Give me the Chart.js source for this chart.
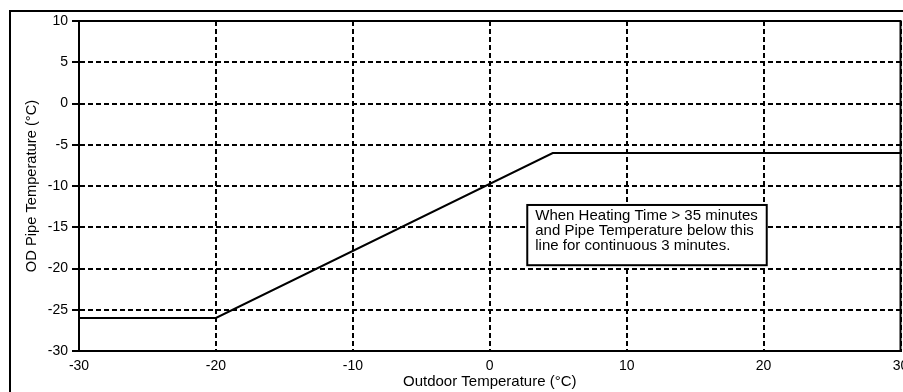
<!DOCTYPE html>
<html>
<head>
<meta charset="utf-8">
<script src="https://cdn.jsdelivr.net/npm/chart.js@4.4.0/dist/chart.umd.min.js"></script>
<style>
html, body { margin: 0; padding: 0; background: #fff; }
</style>
</head>
<body>
<canvas id="defrostChart" width="903" height="392"></canvas>
<script>
/* ==========================================
   DATA
========================================== */

const outdoorTemps = [-30, -20, 4.6, 30];

const pipeTemps = [-26, -26, -6, -6];

const xTicks = [-30, -20, -10, 0, 10, 20, 30];

const yTicks = [10, 5, 0, -5, -10, -15, -20, -25, -30];

const noteLines = [
    "When Heating Time > 35 minutes",
    "and Pipe Temperature below this",
    "line for continuous 3 minutes."
];

/* ==========================================
   FRAME + NOTE BOX
========================================== */

const framePlugin = {

    id: "frame",

    beforeDraw(chart) {
        const ctx = chart.ctx;
        ctx.save();
        ctx.fillStyle = "#fff";
        ctx.fillRect(0, 0, chart.width, chart.height);
        // outer frame, runs off the right and bottom edge
        ctx.strokeStyle = "#000";
        ctx.lineWidth = 2;
        ctx.beginPath();
        ctx.moveTo(10, chart.height + 5);
        ctx.lineTo(10, 11);
        ctx.lineTo(chart.width + 5, 11);
        ctx.stroke();
        ctx.restore();
    },

    afterDatasetsDraw(chart, args, opts) {
        const ctx = chart.ctx;
        const a = chart.chartArea;
        const x = chart.scales.x;
        const y = chart.scales.y;

        ctx.save();
        ctx.strokeStyle = "#000";
        ctx.lineWidth = 2;

        // top and right edge of the plot box
        ctx.beginPath();
        ctx.moveTo(a.left, a.top);
        ctx.lineTo(a.right, a.top);
        ctx.lineTo(a.right, a.bottom);
        ctx.stroke();

        // note box
        const left = x.getPixelForValue(opts.xMin);
        const right = x.getPixelForValue(opts.xMax);
        const top = y.getPixelForValue(opts.yMax);
        const bottom = y.getPixelForValue(opts.yMin);

        ctx.fillStyle = "#fff";
        ctx.fillRect(left, top, right - left, bottom - top);
        ctx.strokeRect(left, top, right - left, bottom - top);

        ctx.fillStyle = "#000";
        ctx.font = "15px 'Liberation Sans', Arial, sans-serif";
        ctx.textBaseline = "middle";
        ctx.textAlign = "left";
        noteLines.forEach((line, i) => {
            ctx.fillText(line, left + 8, top + 11 + i * 15);
        });

        ctx.restore();
    }

};

/* ==========================================
   CHART
========================================== */

Chart.defaults.font.family = "'Liberation Sans', Arial, sans-serif";
Chart.defaults.color = "#000";

new Chart(document.getElementById("defrostChart"), {

    type: "line",

    data: {
        datasets: [{
            data: outdoorTemps.map((t, i) => ({ x: t, y: pipeTemps[i] })),
            borderColor: "#000",
            borderWidth: 2,
            pointRadius: 0,
            tension: 0,
            fill: false
        }]
    },

    options: {

        responsive: false,
        animation: false,

        layout: {
            padding: { top: 21, right: 2.5, left: 0, bottom: 0 }
        },

        plugins: {
            legend: { display: false },
            tooltip: { enabled: false },
            frame: { xMin: 2.74, xMax: 20.23, yMin: -19.6, yMax: -12.3 }
        },

        scales: {

            x: {
                type: "linear",
                min: -30,
                max: 30,
                afterBuildTicks: (s) => { s.ticks = xTicks.map(v => ({ value: v })); },
                afterFit: (s) => {
                    s.height = 41;
                    s.paddingLeft = 0;
                    s.paddingRight = 0;
                },
                ticks: {
                    font: { size: 14 },
                    padding: 7,
                    maxRotation: 0,
                    autoSkip: false
                },
                grid: {
                    color: "#000",
                    lineWidth: 2,
                    drawTicks: false
                },
                border: { color: "#000", width: 2, dash: [5, 3] },
                title: {
                    display: true,
                    text: "Outdoor Temperature (°C)",
                    font: { size: 15 },
                    padding: { top: 0, bottom: 1 }
                }
            },

            y: {
                type: "linear",
                min: -30,
                max: 10,
                afterBuildTicks: (s) => { s.ticks = yTicks.map(v => ({ value: v })); },
                afterFit: (s) => {
                    s.width = 79;
                    s.paddingTop = 0;
                    s.paddingBottom = 0;
                },
                ticks: {
                    font: { size: 14 },
                    padding: 4,
                    autoSkip: false
                },
                grid: {
                    color: "#000",
                    lineWidth: 2,
                    tickLength: 7,
                    tickWidth: 2,
                    tickColor: "#000",
                    tickBorderDash: []
                },
                border: { color: "#000", width: 2, dash: [5, 3] },
                title: {
                    display: true,
                    text: "OD Pipe Temperature (°C)",
                    font: { size: 14.7 },
                    padding: { top: 23, bottom: 0 }
                }
            }

        }

    },

    plugins: [framePlugin]

});
</script>
</body>
</html>
